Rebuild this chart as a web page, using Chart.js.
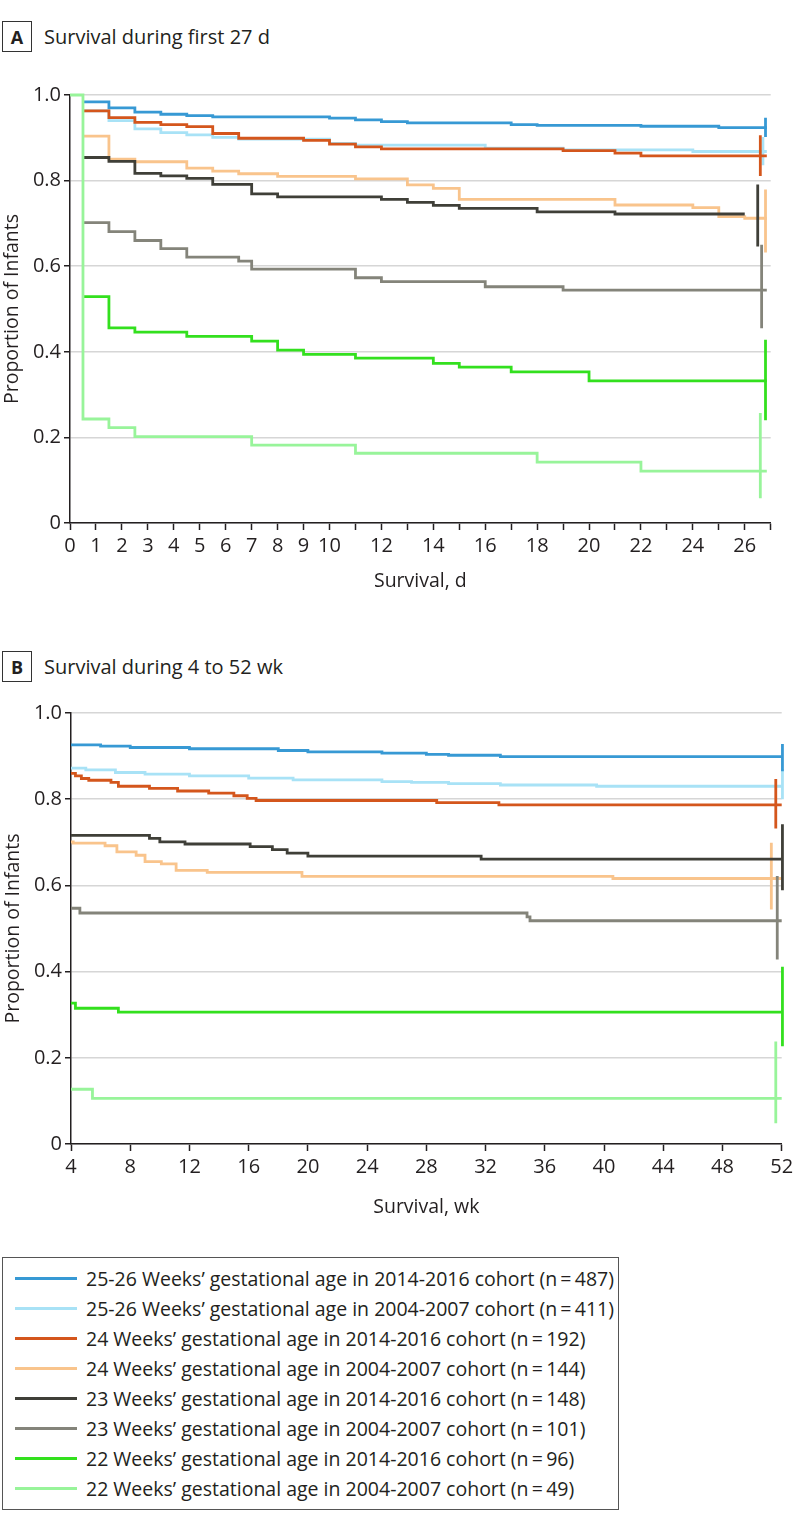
<!DOCTYPE html>
<html><head><meta charset="utf-8">
<script src="https://cdn.jsdelivr.net/npm/chart.js@4.4.1/dist/chart.umd.min.js"></script>
<style>
html,body{margin:0;padding:0;background:#fff;}
body{width:794px;height:1532px;position:relative;overflow:hidden;font-family:'Open Sans','Noto Sans',sans-serif;color:#231f20;}
.hdr{position:absolute;left:2px;height:31px;display:flex;align-items:center;}
.tag{box-sizing:border-box;width:30px;height:31px;border:1.5px solid #333;font-weight:700;font-size:18px;display:flex;align-items:center;justify-content:center;}
.htxt{margin-left:12px;font-size:20px;}
canvas{position:absolute;left:0;}
#legend{position:absolute;left:2px;top:1257px;width:617px;height:253px;box-sizing:border-box;border:1.5px solid #555;}
.row{position:absolute;left:12px;height:30px;display:flex;align-items:center;font-size:19.5px;white-space:nowrap;}
.swatch{width:62px;height:3px;margin-right:9px;}
</style></head>
<body>
<div class="hdr" style="top:21px"><div class="tag">A</div><div class="htxt">Survival during first 27 d</div></div>
<canvas id="cA" width="794" height="600" style="top:0px"></canvas>
<div class="hdr" style="top:651px"><div class="tag">B</div><div class="htxt">Survival during 4 to 52 wk</div></div>
<canvas id="cB" width="794" height="600" style="top:620px"></canvas>
<div id="legend"></div>
<script>
// ---- series meta ----
const SERIES_LABELS = [
  "25-26 Weeks\u2019 gestational age in 2014-2016 cohort (n\u2009=\u2009487)",
  "25-26 Weeks\u2019 gestational age in 2004-2007 cohort (n\u2009=\u2009411)",
  "24 Weeks\u2019 gestational age in 2014-2016 cohort (n\u2009=\u2009192)",
  "24 Weeks\u2019 gestational age in 2004-2007 cohort (n\u2009=\u2009144)",
  "23 Weeks\u2019 gestational age in 2014-2016 cohort (n\u2009=\u2009148)",
  "23 Weeks\u2019 gestational age in 2004-2007 cohort (n\u2009=\u2009101)",
  "22 Weeks\u2019 gestational age in 2014-2016 cohort (n\u2009=\u200996)",
  "22 Weeks\u2019 gestational age in 2004-2007 cohort (n\u2009=\u200949)"
];
const SERIES_COLORS = ["#3799d4","#a8e2f6","#d4561c","#f9c48c","#3f3f38","#84847a","#33e01e","#98f49a"];
const SERIES_ORDER = [4,7,3,6,2,5,1,0];

// ---- Panel A: survival during first 27 d (time in days) ----
const A_T_2526_NEW = [0.5,1.5,2.5,3.5,4.5,5.5,10,11,12,13,17,18,22,25,26.85];
const A_S_2526_NEW = [0.984,0.970,0.960,0.955,0.952,0.949,0.946,0.942,0.938,0.935,0.931,0.929,0.927,0.924,0.924];
const A_T_2526_OLD = [0.5,1.5,2.5,3.5,4.5,5.5,6.5,10,11,16,19,24,26.85];
const A_S_2526_OLD = [0.963,0.940,0.921,0.912,0.907,0.901,0.897,0.887,0.883,0.876,0.872,0.868,0.868];
const A_T_24_NEW = [0.5,1.5,2.5,3.5,4.5,5.5,6.5,9,10,11,12,19,21,22,26.85];
const A_S_24_NEW = [0.963,0.947,0.936,0.931,0.926,0.910,0.899,0.894,0.885,0.879,0.874,0.870,0.864,0.858,0.858];
const A_T_24_OLD = [0.5,1.5,2.5,4.5,5.5,6.5,8,11,13,14,15,21,24,25,26,26.85];
const A_S_24_OLD = [0.904,0.850,0.844,0.829,0.822,0.816,0.810,0.804,0.790,0.782,0.756,0.743,0.737,0.716,0.712,0.712];
const A_T_23_NEW = [0.5,1.5,2.5,3.5,4.5,5.5,7,8,12,13,14,15,18,21,26];
const A_S_23_NEW = [0.854,0.845,0.817,0.811,0.805,0.791,0.769,0.762,0.756,0.749,0.742,0.735,0.727,0.722,0.722];
const A_T_23_OLD = [0.5,1.5,2.5,3.5,4.5,6.5,7,11,12,16,19,26.85];
const A_S_23_OLD = [0.702,0.681,0.660,0.641,0.621,0.612,0.593,0.573,0.564,0.552,0.544,0.544];
const A_T_22_NEW = [0.5,1.5,2.5,4.5,7,8,9,11,14,15,17,20,26.85];
const A_S_22_NEW = [0.529,0.456,0.446,0.436,0.425,0.404,0.394,0.385,0.373,0.364,0.353,0.332,0.332];
const A_T_22_OLD = [0,0.5,1.5,2.5,7,11,18,22,26.85];
const A_S_22_OLD = [1.0,0.243,0.223,0.202,0.182,0.163,0.142,0.121,0.121];
// confidence bars at end of panel A (one per series, legend order)
const A_CI_T  = [26.8,26.7,26.6,26.8,26.5,26.65,26.8,26.6];
const A_CI_LO = [0.902,0.836,0.811,0.632,0.646,0.455,0.240,0.058];
const A_CI_HI = [0.947,0.902,0.906,0.779,0.791,0.650,0.428,0.257];
const A_X_TICK_LABELS = [0,1,2,3,4,5,6,7,8,9,10,12,14,16,18,20,22,24,26];

// ---- Panel B: survival during 4 to 52 wk (time in weeks) ----
const B_T_2526_NEW = [4,6,8,12,18,20,25,28,29.5,33,52];
const B_S_2526_NEW = [0.926,0.923,0.920,0.917,0.913,0.910,0.907,0.904,0.902,0.899,0.899];
const B_T_2526_OLD = [4,5,7,9,12,16,19,25,27,29.5,33,39.5,52];
const B_S_2526_OLD = [0.872,0.868,0.862,0.858,0.854,0.849,0.845,0.841,0.839,0.836,0.833,0.830,0.830];
const B_T_24_NEW = [4,4.3,4.7,5.2,6.7,7.2,9.3,11.2,13.3,15,15.9,16.5,28.7,32.9,52];
const B_S_24_NEW = [0.860,0.854,0.848,0.844,0.839,0.830,0.825,0.819,0.814,0.808,0.802,0.797,0.792,0.787,0.787];
const B_T_24_OLD = [4,4.15,6.3,7.1,8.4,9.0,10.1,11.1,13.2,19.6,40.6,52];
const B_S_24_OLD = [0.701,0.698,0.692,0.678,0.670,0.655,0.650,0.635,0.630,0.621,0.616,0.616];
const B_T_23_NEW = [4,9.3,10,11.7,16.1,17.6,18.6,20,31.7,52];
const B_S_23_NEW = [0.716,0.709,0.701,0.696,0.690,0.683,0.675,0.668,0.661,0.661];
const B_T_23_OLD = [4,4.6,34.8,35,52];
const B_S_23_OLD = [0.547,0.536,0.527,0.518,0.518];
const B_T_22_NEW = [4,4.3,7.2,52];
const B_S_22_NEW = [0.327,0.315,0.306,0.306];
const B_T_22_OLD = [4,5.45,52];
const B_S_22_OLD = [0.127,0.106,0.106];
const B_CI_T  = [52.05,52.05,51.6,51.3,52.05,51.7,52.05,51.6];
const B_CI_LO = [0.865,0.800,0.732,0.544,0.589,0.428,0.227,0.048];
const B_CI_HI = [0.928,0.870,0.847,0.699,0.742,0.622,0.411,0.238];
const B_X_TICK_LABELS = [4,8,12,16,20,24,28,32,36,40,44,48,52];

const Y_TICK_LABELS = ["0","0.2","0.4","0.6","0.8","1.0"];

const A_T = [A_T_2526_NEW,A_T_2526_OLD,A_T_24_NEW,A_T_24_OLD,A_T_23_NEW,A_T_23_OLD,A_T_22_NEW,A_T_22_OLD];
const A_S = [A_S_2526_NEW,A_S_2526_OLD,A_S_24_NEW,A_S_24_OLD,A_S_23_NEW,A_S_23_OLD,A_S_22_NEW,A_S_22_OLD];
const B_T = [B_T_2526_NEW,B_T_2526_OLD,B_T_24_NEW,B_T_24_OLD,B_T_23_NEW,B_T_23_OLD,B_T_22_NEW,B_T_22_OLD];
const B_S = [B_S_2526_NEW,B_S_2526_OLD,B_S_24_NEW,B_S_24_OLD,B_S_23_NEW,B_S_23_OLD,B_S_22_NEW,B_S_22_OLD];

const INK = "#231f20";
Chart.defaults.font.family = "'Open Sans','Noto Sans',sans-serif";
Chart.defaults.color = INK;

function buildDatasets(T, S, ciT, ciLo, ciHi) {
  const ds = [];
  for (let i = 0; i < T.length; i++) {
    ds.push({
      label: SERIES_LABELS[i],
      data: T[i].map((t, j) => ({x: t, y: S[i][j]})),
      borderColor: SERIES_COLORS[i],
      borderWidth: 2.8,
      pointRadius: 0,
      stepped: 'before',
      fill: false,
      clip: 6,
      order: SERIES_ORDER[i]
    });
    ds.push({
      label: SERIES_LABELS[i] + ' CI',
      data: [{x: ciT[i], y: ciLo[i]}, {x: ciT[i], y: ciHi[i]}],
      borderColor: SERIES_COLORS[i],
      borderWidth: 2.8,
      pointRadius: 0,
      fill: false,
      clip: 6,
      order: SERIES_ORDER[i]
    });
  }
  return ds;
}

function makeChart(id, datasets, xOpts, area) {
  const canvasH = 600;
  return new Chart(document.getElementById(id), {
    type: 'line',
    data: {datasets},
    options: {
      responsive: false,
      animation: false,
      events: [],
      layout: {padding: {top: area.top, right: 794 - area.right, bottom: 0, left: area.left - 70}},
      plugins: {legend: {display: false}, tooltip: {enabled: false}},
      scales: {
        x: {
          type: 'linear',
          min: xOpts.min, max: xOpts.max,
          afterFit(s) { s.height = canvasH - area.bottom; s.paddingLeft = 0; s.paddingRight = 0; },
          ticks: {
            stepSize: xOpts.step, autoSkip: false, maxRotation: 0, minRotation: 0,
            padding: 4, font: {size: 20}, color: INK,
            callback: (v) => xOpts.labels.includes(Math.round(v * 1000) / 1000) ? String(v) : ''
          },
          grid: {drawOnChartArea: false, drawTicks: true, tickLength: 7, tickColor: INK, tickWidth: 1.5},
          border: {display: true, color: INK, width: 1.5},
          title: {display: true, text: xOpts.title, font: {size: 19.5}, color: INK, padding: {top: 0, bottom: xOpts.titlePad}}
        },
        y: {
          type: 'linear',
          min: 0, max: 1,
          afterFit(s) { s.width = 70; s.paddingTop = 0; s.paddingBottom = 0; },
          ticks: {
            stepSize: 0.2, padding: 3, font: {size: 20}, color: INK,
            callback: (v) => Y_TICK_LABELS[Math.round(v / 0.2)]
          },
          grid: {color: '#d6d6d6', lineWidth: 1.5, drawTicks: true, tickLength: 6, tickColor: INK, tickWidth: 1.5},
          border: {display: true, color: INK, width: 1.5},
          title: {display: true, text: 'Proportion of Infants', font: {size: 19.5}, color: INK, padding: {top: 1, bottom: 0}}
        }
      }
    }
  });
}

makeChart('cA', buildDatasets(A_T, A_S, A_CI_T, A_CI_LO, A_CI_HI),
  {min: 0, max: 27, step: 1, labels: A_X_TICK_LABELS, title: 'Survival, d', titlePad: 7},
  {top: 95, bottom: 523, left: 70, right: 770.7});
makeChart('cB', buildDatasets(B_T, B_S, B_CI_T, B_CI_LO, B_CI_HI),
  {min: 4, max: 52, step: 4, labels: B_X_TICK_LABELS, title: 'Survival, wk', titlePad: 1},
  {top: 93, bottom: 524, left: 71, right: 781.7});

// legend
const lg = document.getElementById('legend');
SERIES_LABELS.forEach((lab, i) => {
  const r = document.createElement('div');
  r.className = 'row';
  r.style.top = (5.5 + 30 * i) + 'px';
  const sw = document.createElement('span');
  sw.className = 'swatch';
  sw.style.background = SERIES_COLORS[i];
  const tx = document.createElement('span');
  tx.textContent = lab;
  r.appendChild(sw); r.appendChild(tx);
  lg.appendChild(r);
});
</script>
</body></html>
